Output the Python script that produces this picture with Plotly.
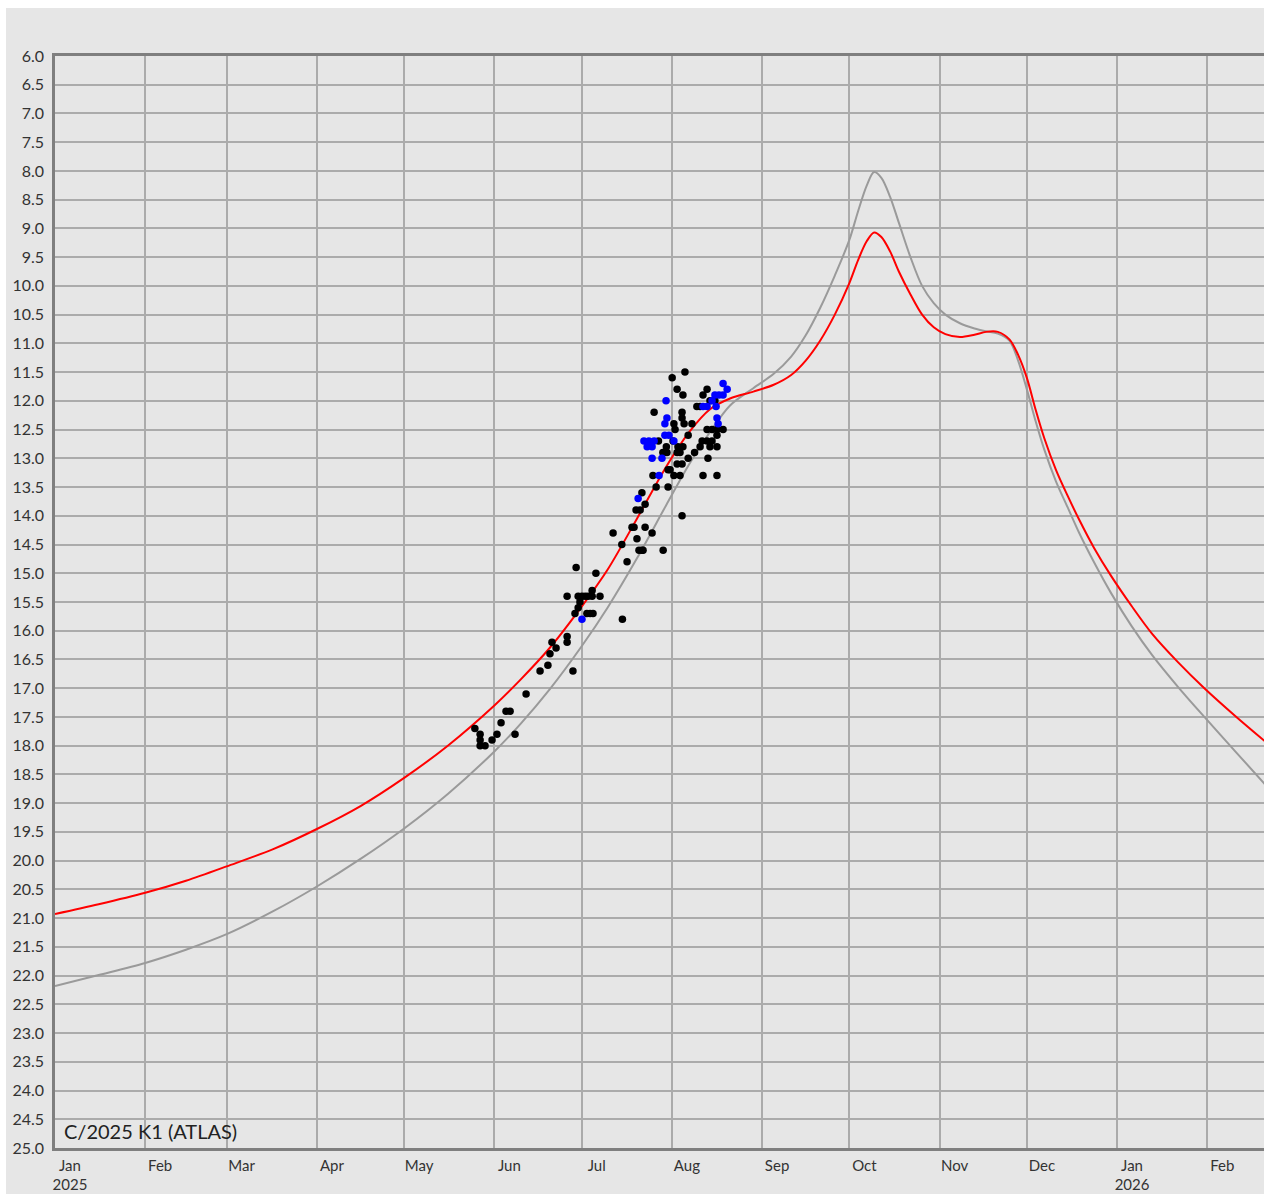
import pandas as pd
import plotly.graph_objects as go

# Light curve of comet C/2025 K1 (ATLAS): total magnitude vs date
EPOCH = pd.Timestamp("2025-01-01")

# Model curves, sampled in days since 2025-01-01
curve_day = [0, 15, 31, 45, 59, 75, 90, 105, 120, 135, 151, 160, 170, 181, 190,
             200, 210, 218, 225, 232, 240, 247, 253, 258, 263, 268, 273, 276, 279,
             281.5, 284, 287, 290, 294, 298, 302, 306, 311, 316, 320, 324, 328, 331,
             334, 337, 340, 344, 348, 352, 357, 363, 370, 377, 386, 395, 406, 416]
red_mag = [20.93, 20.76, 20.56, 20.35, 20.10, 19.80, 19.45, 19.05, 18.56, 18.00,
           17.30, 16.85, 16.30, 15.58, 14.93, 14.05, 13.15, 12.54, 12.15, 11.96,
           11.84, 11.72, 11.55, 11.30, 10.95, 10.50, 9.95, 9.55, 9.22, 9.07,
           9.15, 9.40, 9.75, 10.15, 10.50, 10.72, 10.84, 10.89, 10.85, 10.80,
           10.80, 10.93, 11.20, 11.60, 12.15, 12.65, 13.20, 13.65, 14.07, 14.55,
           15.05, 15.57, 16.05, 16.55, 17.00, 17.50, 17.93]
gray_mag = [22.18, 21.99, 21.78, 21.55, 21.28, 20.88, 20.45, 19.97, 19.44, 18.84,
            18.10, 17.62, 17.02, 16.27, 15.59, 14.74, 13.82, 13.10, 12.55, 12.08,
            11.78, 11.53, 11.23, 10.86, 10.38, 9.82, 9.20, 8.70, 8.25, 8.02,
            8.12, 8.45, 8.90, 9.50, 10.00, 10.30, 10.50, 10.65, 10.74, 10.79,
            10.83, 10.95, 11.30, 11.80, 12.35, 12.85, 13.40, 13.85, 14.30, 14.80,
            15.35, 15.92, 16.42, 16.98, 17.50, 18.12, 18.68]

# Observations (days since 2025-01-01, magnitude)
black_day = [144.3, 146.1, 146.1, 146.1, 147.8, 150.2, 151.9, 153.3, 155.0, 156.4,
             158.1, 161.9, 166.7, 169.4, 170.1, 170.8, 172.2, 176.0, 176.0, 178.0,
             176.0, 179.1, 178.7, 179.8, 180.4, 179.8, 181.1, 182.2, 183.2, 184.6,
             184.6, 187.3, 182.8, 183.9, 184.9, 185.9, 195.0, 191.8, 194.8, 196.6,
             198.3, 199.0, 200.0, 200.7, 201.7, 202.1, 209.0, 202.8, 205.2, 199.7,
             201.1, 202.8, 201.7, 206.6, 210.7, 205.5, 212.7, 210.7, 213.8, 214.8,
             215.5, 211.4, 216.5, 212.1, 213.8, 215.8, 205.9, 212.7, 215.5, 215.5,
             216.2, 218.9, 224.1, 222.7, 221.7, 220.6, 225.1, 226.8, 224.1, 225.8,
             227.5, 229.6, 222.4, 224.1, 225.8, 227.5, 221.7, 225.1, 227.5, 224.4,
             222.7, 227.5, 207.4, 210.1, 212.4, 214.1, 215.8, 208.9, 210.3, 213.8,
             214.8, 215.5, 213.1, 217.6, 217.6, 219.8]
black_mag = [17.7, 17.8, 17.9, 18.0, 18.0, 17.9, 17.8, 17.6, 17.4, 17.4,
             17.8, 17.1, 16.7, 16.6, 16.4, 16.2, 16.3, 16.1, 16.2, 16.7,
             15.4, 14.9, 15.7, 15.6, 15.5, 15.4, 15.4, 15.4, 15.4, 15.3,
             15.4, 15.4, 15.7, 15.7, 15.7, 15.0, 15.8, 14.3, 14.5, 14.8,
             14.2, 14.2, 14.4, 14.6, 14.6, 14.6, 14.6, 14.2, 14.3, 13.9,
             13.9, 13.8, 13.6, 13.5, 13.5, 13.3, 13.3, 13.2, 13.1, 13.3,
             14.0, 13.2, 11.5, 11.6, 11.8, 11.9, 12.2, 12.4, 12.2, 12.3,
             12.4, 12.4, 11.8, 11.9, 12.1, 12.1, 12.0, 12.0, 12.5, 12.5,
             12.5, 12.5, 12.7, 12.7, 12.7, 12.6, 12.8, 12.8, 12.8, 13.0,
             13.3, 13.3, 12.7, 12.8, 12.7, 12.8, 12.8, 12.9, 12.9, 12.9,
             12.9, 13.1, 12.5, 12.6, 13.0, 12.9]
blue_day = [181.1, 200.4, 207.6, 205.2, 208.6, 202.4, 204.1, 205.9, 203.5, 205.2,
            209.6, 211.0, 209.6, 210.3, 210.0, 229.6, 231.0, 229.6, 228.2, 226.8,
            225.8, 227.2, 224.1, 222.7, 227.5, 227.9, 212.7]
blue_mag = [15.8, 13.7, 13.3, 13.0, 13.0, 12.7, 12.7, 12.7, 12.8, 12.8,
            12.6, 12.6, 12.4, 12.3, 12.0, 11.7, 11.8, 11.9, 11.9, 11.9,
            12.0, 12.1, 12.1, 12.1, 12.3, 12.4, 12.7]

month_starts = pd.date_range("2025-01-01", "2026-02-01", freq="MS")
month_text = [("%s<br>%d" % (d.strftime("%b"), d.year)) if d.month == 1 else d.strftime("%b")
              for d in month_starts]
y_ticks = [6 + 0.5 * i for i in range(39)]


def to_dates(days):
    return EPOCH + pd.to_timedelta(days, unit="D")


fig = go.Figure()
fig.add_trace(go.Scatter(x=to_dates(curve_day), y=gray_mag, mode="lines",
                         line=dict(color="#9a9a9a", width=2, shape="spline", smoothing=0.9),
                         hoverinfo="skip"))
fig.add_trace(go.Scatter(x=to_dates(curve_day), y=red_mag, mode="lines",
                         line=dict(color="#ff0000", width=2, shape="spline", smoothing=0.9),
                         hoverinfo="skip"))
fig.add_trace(go.Scatter(x=to_dates(black_day), y=black_mag, mode="markers",
                         marker=dict(color="#000000", size=7.5)))
fig.add_trace(go.Scatter(x=to_dates(blue_day), y=blue_mag, mode="markers",
                         marker=dict(color="#0000ff", size=7.5)))

W, H = 1264, 1194
L, R, T, B = 55, 0, 56, 46
pw, ph = W - L - R, H - T - B

fig.update_layout(
    width=W, height=H,
    margin=dict(l=L, r=R, t=T, b=B),
    paper_bgcolor="#e6e6e6",
    plot_bgcolor="#e6e6e6",
    showlegend=False,
    font=dict(family="Lato, 'Open Sans', sans-serif", color="#333333"),
    xaxis=dict(
        range=[EPOCH, EPOCH + pd.Timedelta(days=415.5)],
        tickvals=month_starts, ticktext=month_text,
        ticklabelshift=15, ticklabelstandoff=2,
        tickfont=dict(size=15, color="#333333"),
        showgrid=True, gridcolor="#ababab", gridwidth=1.5,
        showline=True, linecolor="#7f7f7f", linewidth=2.5, mirror=True,
        ticks="", zeroline=False,
    ),
    yaxis=dict(
        range=[25, 6],
        tickvals=y_ticks, ticktext=["%.1f" % v for v in y_ticks],
        ticklabelstandoff=5,
        tickfont=dict(size=16, color="#333333"),
        showgrid=True, gridcolor="#ababab", gridwidth=1.5,
        showline=True, linecolor="#7f7f7f", linewidth=2.5,
        ticks="", zeroline=False,
    ),
    shapes=[
        # white strip along the top and left edge of the page
        dict(type="rect", xref="paper", yref="paper", layer="below", line_width=0,
             fillcolor="#ffffff", x0=-L / pw, x1=1.0, y0=1 + (T - 8) / ph, y1=1 + T / ph),
        dict(type="rect", xref="paper", yref="paper", layer="below", line_width=0,
             fillcolor="#ffffff", x0=-L / pw, x1=-(L - 6) / pw, y0=-B / ph, y1=1 + T / ph),
    ],
    annotations=[
        dict(text="C/2025 K1 (ATLAS)", xref="paper", yref="paper",
             x=7 / pw, y=3 / ph, xanchor="left", yanchor="bottom", showarrow=False,
             font=dict(size=20, color="#222222")),
    ],
)

fig.write_html("out.html")
